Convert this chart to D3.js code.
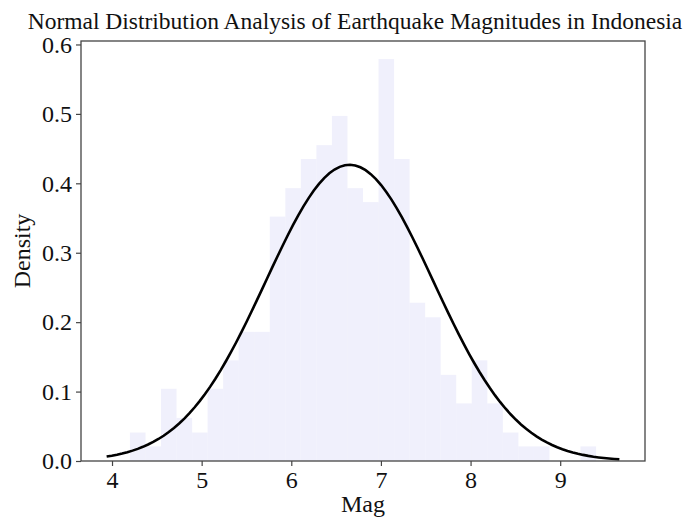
<!DOCTYPE html>
<html>
<head>
<meta charset="utf-8">
<script src="https://cdn.jsdelivr.net/npm/d3@7"></script>
<style>
  body { margin: 0; background: #fff; }
  svg text { font-family: "Liberation Serif", "Times New Roman", serif; fill: #111; }
</style>
</head>
<body>
<div id="chart"></div>
<script>
// histogram: 30 bins between the min and max magnitude, density heights
const binStart = 4.2
const binEnd = 9.4
const binDensity = [0.041, 0.021, 0.104, 0.062, 0.041, 0.104, 0.145, 0.186, 0.186, 0.352,
                    0.393, 0.435, 0.455, 0.497, 0.393, 0.373, 0.579, 0.435, 0.228, 0.207,
                    0.124, 0.083, 0.145, 0.083, 0.041, 0.021, 0.021, 0, 0, 0.021]
// fitted normal curve
const fitMean = 6.65
const fitStd = 0.935
const curveRange = [3.94, 9.66]
const xTicks = [4, 5, 6, 7, 8, 9]
const yTicks = [0, 0.1, 0.2, 0.3, 0.4, 0.5, 0.6]

;(function () {
    const margin = { top: 41, right: 54, bottom: 57, left: 81 }
    const width = 699 - margin.left - margin.right,
    height = 518 - margin.top - margin.bottom;

    const svg = d3
    .select("#chart")
    .append("svg")
    .attr("width", width + margin.left + margin.right)
    .attr("height", height + margin.top + margin.bottom)

    const g = svg.append("g")
    .attr("transform", "translate(" + margin.left + "," + margin.top + ")")

    const x = d3.scaleLinear().domain([3.654, 9.946]).range([0, width])
    const y = d3.scaleLinear().domain([0, 0.605]).range([height, 0])

    const binW = (binEnd - binStart) / binDensity.length

    // bars
    g.selectAll(".bar")
    .data(binDensity)
    .enter().append("rect")
    .attr("class", "bar")
    .attr("x", function(d, i) { return x(binStart + i * binW) })
    .attr("width", function(d, i) { return x(binStart + (i + 1) * binW) - x(binStart + i * binW) })
    .attr("y", function(d) { return y(d) })
    .attr("height", function(d) { return y(0) - y(d) })
    .style("fill", "#e6e6fa")
    .style("fill-opacity", 0.6)

    // normal pdf
    const pts = d3.range(100).map(function(i) {
        const xv = curveRange[0] + (curveRange[1] - curveRange[0]) * i / 99
        const z = (xv - fitMean) / fitStd
        return [xv, Math.exp(-0.5 * z * z) / (fitStd * Math.sqrt(2 * Math.PI))]
    })

    g.append("path")
    .datum(pts)
    .attr("d", d3.line().x(function(d) { return x(d[0]) }).y(function(d) { return y(d[1]) }))
    .style("fill", "none")
    .style("stroke", "#000")
    .style("stroke-width", 2.6)

    // axes
    g.append("g")
    .attr("transform", "translate(0," + height + ")")
    .call(d3.axisBottom(x).tickValues(xTicks).tickSize(5).tickPadding(5).tickFormat(d3.format("d")))
    g.append("g")
    .call(d3.axisLeft(y).tickValues(yTicks).tickSize(5).tickPadding(4).tickFormat(d3.format(".1f")))

    svg.selectAll(".domain").remove()
    svg.selectAll(".tick line").attr("stroke", "#444").attr("stroke-width", 1.2)
    svg.selectAll(".tick text")
    .attr("font-family", "Liberation Serif")
    .attr("font-size", "24px")
    .style("fill", "#111")

    // frame
    g.append("rect")
    .attr("width", width)
    .attr("height", height)
    .style("fill", "none")
    .style("stroke", "#444")
    .style("stroke-width", 1.3)

    svg.append("text")
    .attr("x", 355)
    .attr("y", 29)
    .attr("text-anchor", "middle")
    .attr("font-size", "23.5px")
    .text("Normal Distribution Analysis of Earthquake Magnitudes in Indonesia")

    svg.append("text")
    .attr("x", margin.left + width / 2)
    .attr("y", 512)
    .attr("text-anchor", "middle")
    .attr("font-size", "24px")
    .text("Mag")

    svg.append("text")
    .attr("transform", "translate(30," + (margin.top + height / 2) + ") rotate(-90)")
    .attr("text-anchor", "middle")
    .attr("font-size", "24px")
    .text("Density")
})()
</script>
</body>
</html>
